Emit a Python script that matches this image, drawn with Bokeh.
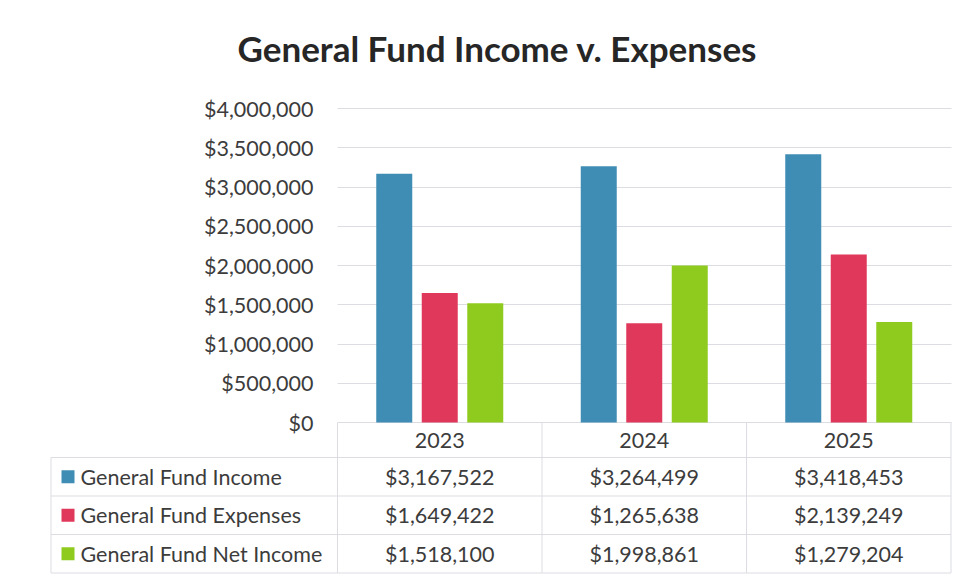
from bokeh.plotting import figure
from bokeh.models import (Range1d, FixedTicker, NumeralTickFormatter, ColumnDataSource,
                          LinearAxis, Grid)
from bokeh.transform import dodge
from bokeh.embed import file_html
from bokeh.resources import INLINE
from bokeh.core.properties import value

# ---- data ----
years = ["2023", "2024", "2025"]
series_names = ["General Fund Income", "General Fund Expenses", "General Fund Net Income"]
income = [3167522, 3264499, 3418453]
expenses = [1649422, 1265638, 2139249]
net_income = [1518100, 1998861, 1279204]
y_ticks = [0, 500000, 1000000, 1500000, 2000000, 2500000, 3000000, 3500000, 4000000]

# ---- styles / layout constants ----
colors = ["#3f8cb5", "#e0385a", "#8fcb1e"]
FONT = "Lato"
TXT = "#3c3c3c"
GRID = "#dcdde3"
FS = "21.5px"

W, H = 960, 578
PX = 204.5                     # pixels per category column
X0 = 337                       # left edge of first category column
FRAME_L, FRAME_R, FRAME_T, FRAME_B = 48, 953, 90, 576
ZERO_Y, TOP_Y = 422, 108       # pixel rows of $0 and top tick
Y_MAX = y_ticks[-1]
RW = 38.5                      # table row height
HDR = 35 / RW                  # header row height (table units)
LEFT = (50.5 - X0) / PX        # left edge of legend column

s = Y_MAX / (ZERO_Y - TOP_Y)
p = figure(x_range=Range1d((FRAME_L - X0) / PX, (FRAME_R - X0) / PX),
           y_range=Range1d(-(FRAME_B - ZERO_Y) * s, Y_MAX + (TOP_Y - FRAME_T) * s),
           width=W, height=H,
           min_border_left=FRAME_L, min_border_right=W - FRAME_R,
           min_border_top=FRAME_T, min_border_bottom=H - FRAME_B,
           x_axis_location=None, y_axis_location=None,
           output_backend="svg", toolbar_location=None,
           title="General Fund Income v. Expenses")
p.grid.visible = False
p.outline_line_color = None
p.extra_y_ranges = {"tbl": Range1d(start=(FRAME_B - ZERO_Y) / RW, end=-(ZERO_Y - FRAME_T) / RW)}

n = len(years)
nr = len(series_names)

# ---- bars ----
src = ColumnDataSource(dict(xi=[i + 0.5 for i in range(n)], income=income,
                            expenses=expenses, net=net_income))
bw = 36 / PX
off = 45.5 / PX
for key, dx, c in zip(["income", "expenses", "net"], [-off, 0.0, off], colors):
    p.vbar(x=dodge("xi", dx), bottom=0, top=key, width=bw, source=src,
           fill_color=c, line_color=None)

# ---- y axis & grid ----
ticker = FixedTicker(ticks=y_ticks)
yaxis = LinearAxis(ticker=ticker, formatter=NumeralTickFormatter(format="$0,0"),
                   fixed_location=0, bounds=(0, Y_MAX))
yaxis.axis_line_color = None
yaxis.major_tick_line_color = None
yaxis.minor_tick_line_color = None
yaxis.major_label_standoff = 18
yaxis.major_label_text_font = FONT
yaxis.major_label_text_font_size = FS
yaxis.major_label_text_color = TXT
p.add_layout(yaxis, "left")

grid = Grid(dimension=1, ticker=ticker, cross_bounds=(0, n),
            grid_line_color=GRID, grid_line_width=1)
p.add_layout(grid)

# ---- title ----
p.title.text_font = FONT
p.title.text_font_style = "bold"
p.title.text_font_size = "35px"
p.title.text_color = "#262626"
p.title.align = "left"
p.title.offset = 237 - FRAME_L
p.title.standoff = 44

# ---- data table ----
hx0, hx1, hy = [], [], []
for r in range(nr + 1):
    hx0.append(LEFT); hx1.append(n); hy.append(HDR + r)
p.segment(x0=hx0, x1=hx1, y0=hy, y1=hy, line_color=GRID, line_width=1, y_range_name="tbl")
vx = list(range(n + 1)) + [LEFT]
vy0 = [0] * (n + 1) + [HDR]
vy1 = [HDR + nr] * (n + 2)
p.segment(x0=vx, x1=vx, y0=vy0, y1=vy1, line_color=GRID, line_width=1, y_range_name="tbl")

p.text(x=[i + 0.5 for i in range(n)], y=[HDR / 2] * n, text=years,
       text_align="center", text_baseline="middle", text_font=value(FONT),
       text_font_size=FS, text_color=TXT, y_range_name="tbl")

for r, vals in enumerate([income, expenses, net_income]):
    p.text(x=[i + 0.5 for i in range(n)], y=[HDR + r + 0.5] * n,
           text=["${:,}".format(v) for v in vals],
           text_align="center", text_baseline="middle", text_font=value(FONT),
           text_font_size=FS, text_color=TXT, y_range_name="tbl")

row_y = [HDR + r + 0.5 for r in range(nr)]
p.rect(x=[LEFT + 17 / PX] * nr, y=row_y, width=13, height=13,
       width_units="screen", height_units="screen", fill_color=colors, line_color=None,
       y_range_name="tbl")
p.text(x=[LEFT + 29.5 / PX] * nr, y=row_y, text=series_names,
       text_align="left", text_baseline="middle", text_font=value(FONT),
       text_font_size=FS, text_color=TXT, y_range_name="tbl")

open("out.html", "w").write(file_html(p, INLINE))
